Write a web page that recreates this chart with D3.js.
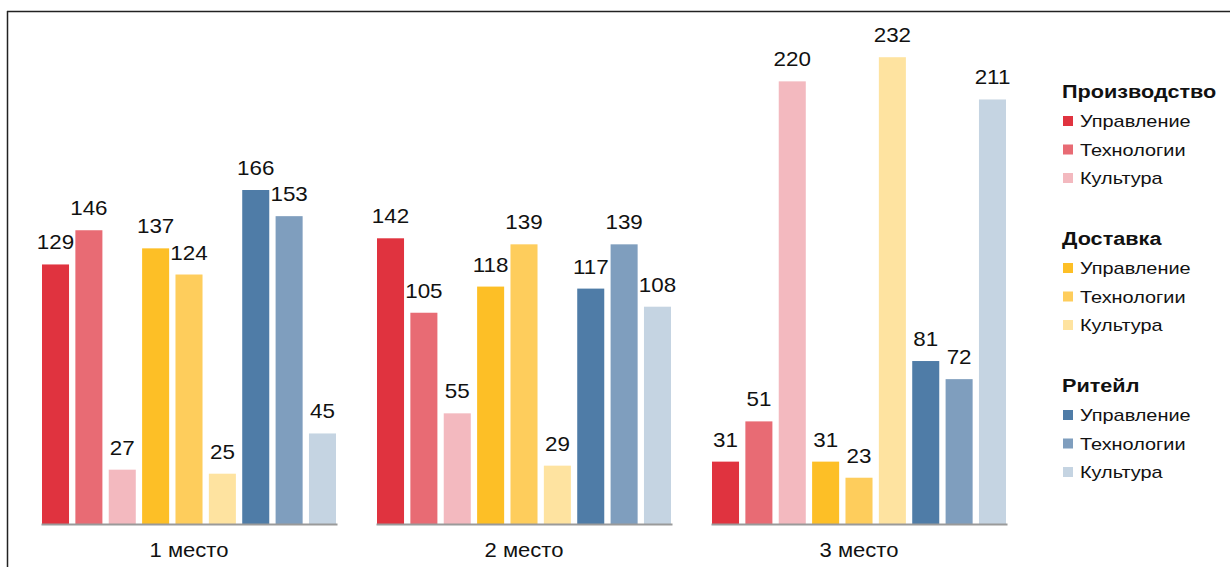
<!DOCTYPE html>
<html>
<head>
<meta charset="utf-8">
<script src="https://cdnjs.cloudflare.com/ajax/libs/d3/7.8.5/d3.min.js"></script>
<style>
  body { margin: 0; background: #fff; }
  text { font-family: "Liberation Sans", Arial, sans-serif; fill: #111; }
</style>
</head>
<body>
<svg width="1230" height="567"></svg>
<script>
// data
var groups = ["1 место", "2 место", "3 место"];
var sectors = ["Производство", "Доставка", "Ритейл"];
var kinds = ["Управление", "Технологии", "Культура"];
// order: Производство (Упр, Тех, Кул), Доставка (...), Ритейл (...)
var mesto1 = [129, 146, 27, 137, 124, 25, 166, 153, 45];
var mesto2 = [142, 105, 55, 118, 139, 29, 117, 139, 108];
var mesto3 = [31, 51, 220, 31, 23, 232, 81, 72, 211];
var colors = ["#e0333f", "#e86b74", "#f3b9bf",
              "#fdbf26", "#fecd5c", "#fee3a0",
              "#4f7ca7", "#7f9ebe", "#c5d4e2"];

var allValues = [mesto1, mesto2, mesto3];
var series = [];
sectors.forEach(function(s) { kinds.forEach(function(k) { series.push(s + "|" + k); }); });

// text in the picture is a bit wider than the font, stretch it
function wide(x, y, k) { return "translate(" + x + "," + y + ") scale(" + k + ",1)"; }

var svg = d3.select("svg");

// frame (top and left only)
svg.append("line").attr("x1", 7).attr("x2", 1230).attr("y1", 11.5).attr("y2", 11.5)
   .attr("stroke", "#222").attr("stroke-width", 1.5);
svg.append("line").attr("x1", 7.5).attr("x2", 7.5).attr("y1", 11).attr("y2", 567)
   .attr("stroke", "#222").attr("stroke-width", 1.5);

var x0 = d3.scaleBand().domain(groups).range([41, 1007]).paddingInner(39 / 335).paddingOuter(0);
var x1 = d3.scaleBand().domain(series).range([0, x0.bandwidth()]).paddingInner(0.19).paddingOuter(0.03);
var y = d3.scaleLinear().domain([0, 250]).range([524, 21]);

var g = svg.selectAll(".grp")
  .data(groups)
  .enter().append("g")
  .attr("class", "grp")
  .attr("transform", function(d) { return "translate(" + x0(d) + ",0)"; });

g.each(function(grp, gi) {
  var sel = d3.select(this);
  var vals = allValues[gi].map(function(v, i) { return { key: series[i], value: v, i: i }; });

  sel.selectAll("rect")
    .data(vals)
    .enter().append("rect")
    .attr("x", function(d) { return x1(d.key); })
    .attr("y", function(d) { return y(d.value); })
    .attr("width", x1.bandwidth())
    .attr("height", function(d) { return y(0) - y(d.value); })
    .attr("fill", function(d) { return colors[d.i]; });

  sel.selectAll(".lbl")
    .data(vals)
    .enter().append("text")
    .attr("class", "lbl")
    .attr("transform", function(d) {
      return wide(x1(d.key) + x1.bandwidth() / 2, y(d.value) - 15, 1.12);
    })
    .attr("text-anchor", "middle")
    .attr("font-size", "20px")
    .text(function(d) { return d.value; });

  var ax = sel.append("g")
    .attr("transform", "translate(0," + y(0) + ")")
    .call(d3.axisBottom(x1).tickSize(0).tickSizeOuter(0).tickFormat(""));
  ax.select(".domain").attr("stroke", "#9a9a9a").attr("stroke-width", 2);

  sel.append("text")
    .attr("transform", wide(x0.bandwidth() / 2, 557, 1.13))
    .attr("text-anchor", "middle")
    .attr("font-size", "19.5px")
    .text(grp);
});

// legend
var lg = svg.append("g").attr("transform", "translate(1062,0)");
sectors.forEach(function(s, si) {
  var top = 98 + si * 147;
  lg.append("text")
    .attr("transform", wide(0, top, 1.17))
    .attr("font-size", "18.5px")
    .attr("font-weight", "bold")
    .text(s);
  kinds.forEach(function(k, ki) {
    var cy = top + 23 + ki * 28.5;
    lg.append("rect")
      .attr("x", 1).attr("y", cy - 5)
      .attr("width", 10).attr("height", 10)
      .attr("fill", colors[si * 3 + ki]);
    lg.append("text")
      .attr("transform", wide(18, cy + 6, 1.17))
      .attr("font-size", "17px")
      .text(k);
  });
});
</script>
</body>
</html>
